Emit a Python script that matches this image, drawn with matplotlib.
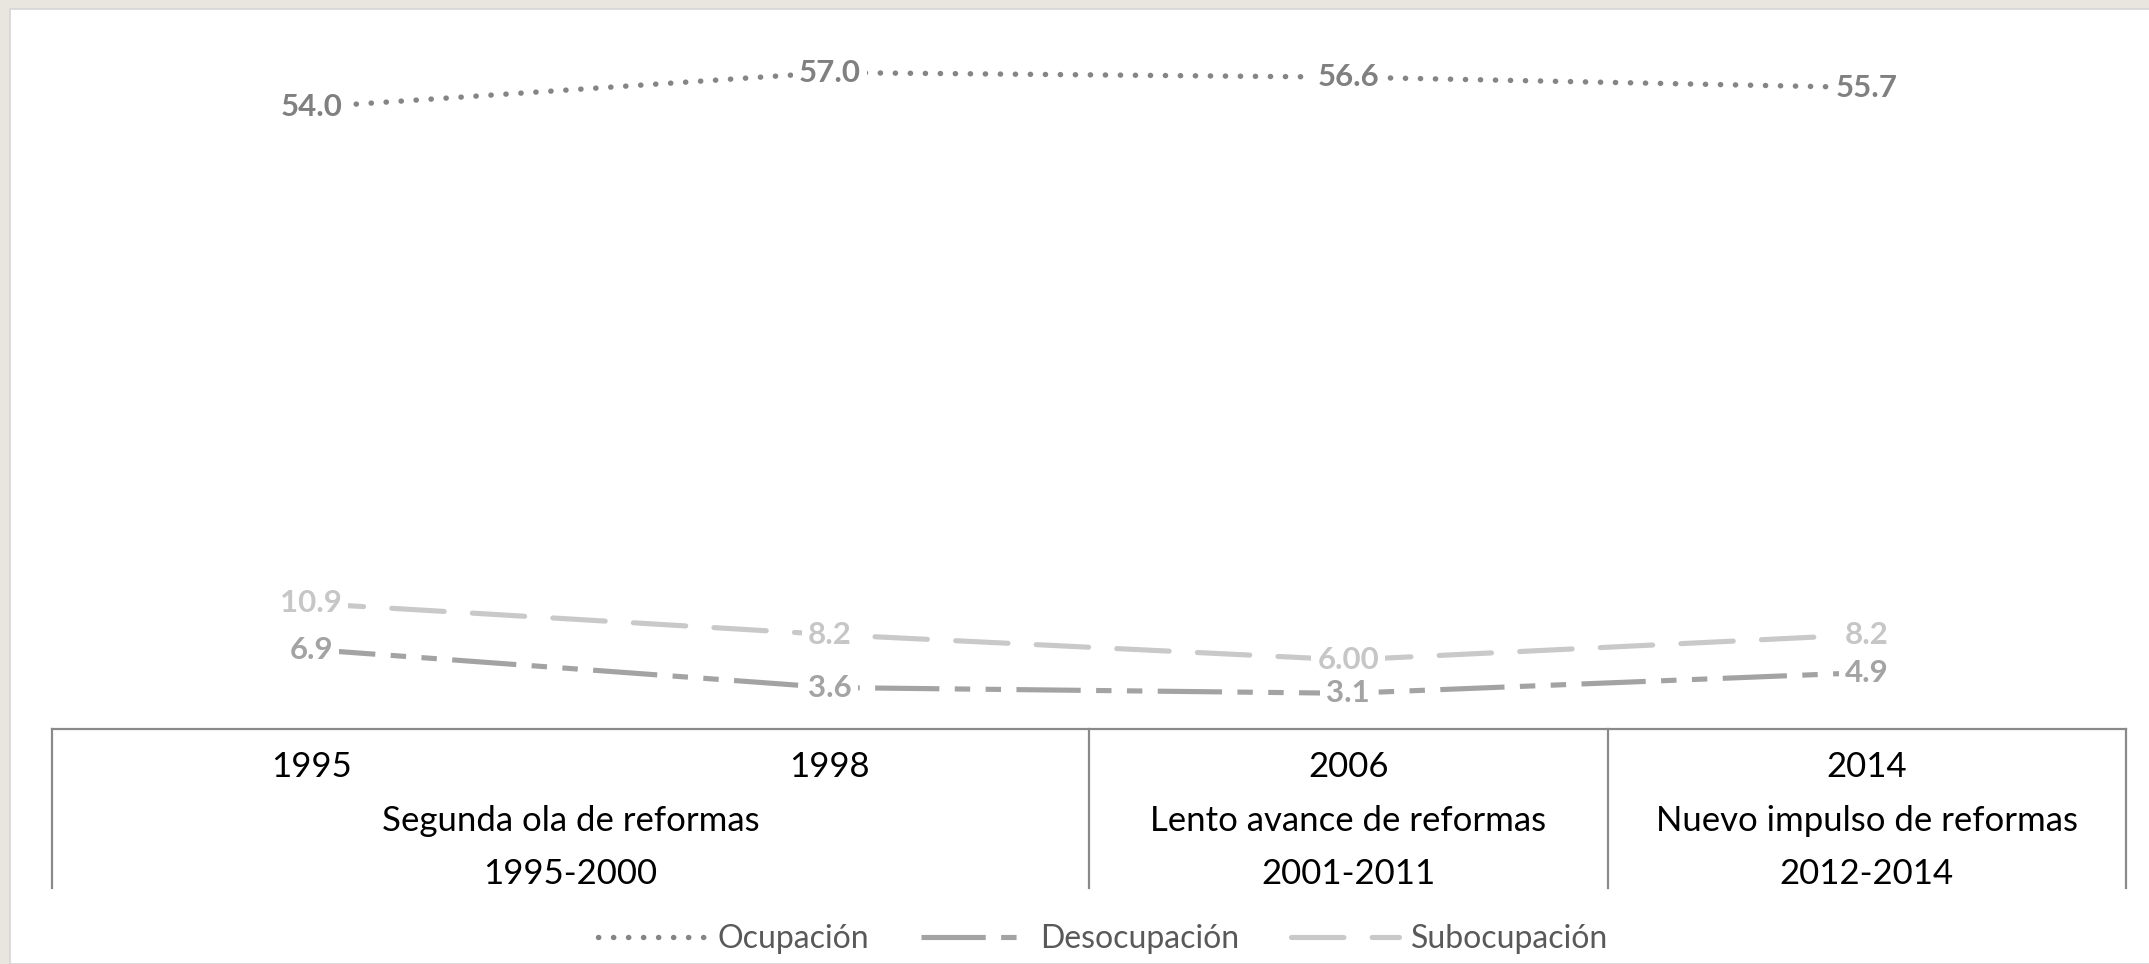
import matplotlib.pyplot as plt
from matplotlib.lines import Line2D
from matplotlib.patches import Rectangle
from matplotlib.transforms import blended_transform_factory

# data
years = ['1995', '1998', '2006', '2014']
ocupacion = [54.0, 57.0, 56.6, 55.7]
desocupacion = [6.9, 3.6, 3.1, 4.9]
subocupacion = [10.9, 8.2, 6.0, 8.2]
sub_decimals = [1, 1, 2, 1]

periods = ['Segunda ola de reformas', 'Lento avance de reformas', 'Nuevo impulso de reformas']
period_years = ['1995-2000', '2001-2011', '2012-2014']
period_span = [(0, 1), (2, 2), (3, 3)]

plt.rcParams['font.family'] = ['Lato', 'DejaVu Sans']

W, H = 2149, 964
fig = plt.figure(figsize=(W / 100, H / 100), dpi=100, facecolor='#e8e6df')

# white panel
fig.patches.append(Rectangle((10 / W, 0), 1, 1 - 9 / H, transform=fig.transFigure,
                             facecolor='white', edgecolor='#d6d6d6', linewidth=1.2,
                             zorder=-5))

ax = fig.add_axes([52 / W, 1 - 729 / H, (2126 - 52) / W, (729 - 38) / H])
ax.set_zorder(2)
ax.set_facecolor('none')
ax.set_xlim(-0.5, 3.5)
ax.set_ylim(0, 60)
for s in ['top', 'left', 'right']:
    ax.spines[s].set_visible(False)
ax.spines['bottom'].set_color('#8a8a8a')
ax.spines['bottom'].set_linewidth(1.6)
ax.set_xticks([])
ax.set_yticks([])

x = list(range(len(years)))

c_ocu = '#858585'
c_des = '#a3a3a3'
c_sub = '#c9c9c9'

ls_ocu = (0, (0.05, 2.72))
ls_des = (0, (12.5, 3.0, 3.0, 3.0, 3.0, 3.0))
ls_sub = (0, (10.2, 5.5))

ax.plot(x, ocupacion, color=c_ocu, lw=3.9, linestyle=ls_ocu, dash_capstyle='round')
ax.plot(x, desocupacion, color=c_des, lw=3.7, linestyle=ls_des, dash_capstyle='butt')
ax.plot(x, subocupacion, color=c_sub, lw=3.7, linestyle=ls_sub, dash_capstyle='round')

def labels(vals, color, decs=None):
    for i, v in enumerate(vals):
        d = decs[i] if decs else 1
        ax.text(i, v, f'{v:.{d}f}', ha='center', va='center', fontsize=22.5,
                fontweight='bold', color=color, zorder=5,
                bbox=dict(boxstyle='square,pad=0.2', fc='white', ec='none'))

labels(ocupacion, '#808080')
labels(desocupacion, '#a3a3a3')
labels(subocupacion, '#c6c6c6', sub_decimals)

# category table below the axis
tr = blended_transform_factory(ax.transData, fig.transFigure)
y_top = 1 - 729 / H
y_bot = 1 - 888 / H
for xv in [-0.5, 1.5, 2.5, 3.5]:
    ax.add_line(Line2D([xv, xv], [y_top, y_bot], transform=tr, color='#8a8a8a',
                       lw=1.6, clip_on=False))

for i, yr in enumerate(years):
    ax.text(i, 1 - 767 / H, yr, transform=tr, ha='center', va='center',
            fontsize=25, color='black')
for (a, b), name, py in zip(period_span, periods, period_years):
    xc = (a + b) / 2
    ax.text(xc, 1 - 821 / H, name, transform=tr, ha='center', va='center',
            fontsize=25, color='black')
    ax.text(xc, 1 - 874 / H, py, transform=tr, ha='center', va='center',
            fontsize=25, color='black')

handles = [
    Line2D([], [], color=c_ocu, lw=3.9, linestyle=ls_ocu, dash_capstyle='round'),
    Line2D([], [], color=c_des, lw=3.7, linestyle=ls_des),
    Line2D([], [], color=c_sub, lw=3.7, linestyle=ls_sub, dash_capstyle='round'),
]
leg = fig.legend(handles, ['Ocupación', 'Desocupación', 'Subocupación'],
                 loc='center', bbox_to_anchor=(1103 / W, 1 - 939 / H), ncol=3,
                 frameon=False, fontsize=23, handlelength=3.4, handletextpad=0.35,
                 columnspacing=1.6)
for t in leg.get_texts():
    t.set_color('#595959')

fig.savefig('out.png', dpi=100, facecolor=fig.get_facecolor())
